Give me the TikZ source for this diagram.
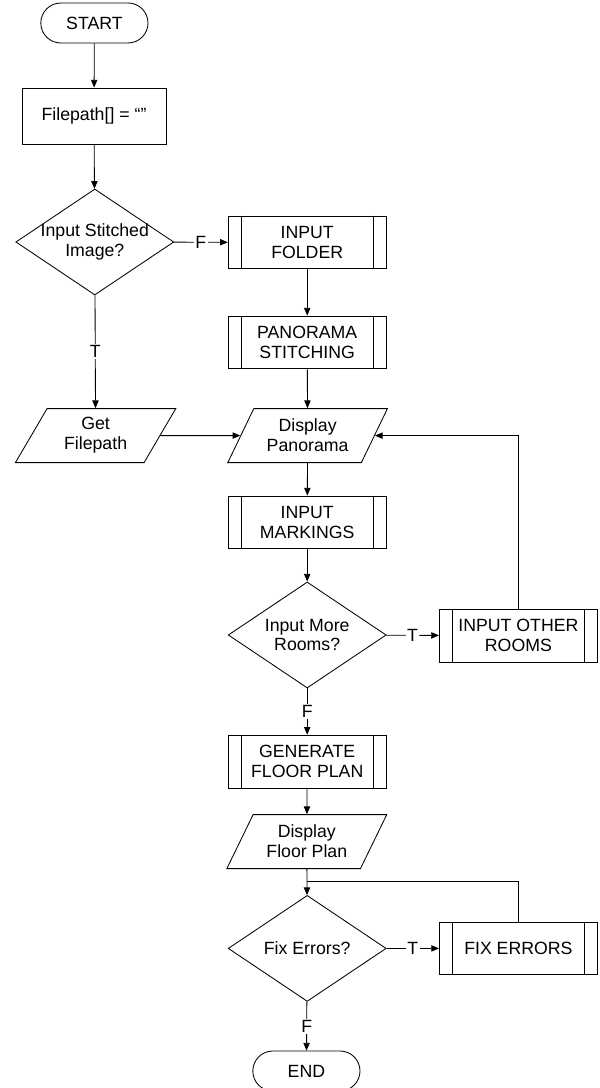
\documentclass[tikz,border=0pt]{standalone}
\usepackage{fontspec}
\setmainfont{Liberation Sans}
\usetikzlibrary{shapes.geometric,arrows.meta}

\tikzset{
  flowbox/.style={draw, align=center},
  terminal/.style={flowbox, rounded corners=0.5cm, minimum width=2.68cm, minimum height=1cm},
  process/.style={flowbox, minimum width=3.6cm, minimum height=1.4cm},
  decision/.style={flowbox, diamond, minimum width=3.95cm, minimum height=2.65cm, inner sep=0pt},
  inout/.style={flowbox, trapezium, trapezium left angle=62.5, trapezium right angle=117.5,
    trapezium stretches=true, minimum width=4.03cm, minimum height=1.35cm},
  subproc/.style={flowbox, minimum width=3.95cm, minimum height=1.32cm,
    path picture={
      \draw ([xshift=0.33cm]path picture bounding box.north west) -- ([xshift=0.33cm]path picture bounding box.south west);
      \draw ([xshift=-0.33cm]path picture bounding box.north east) -- ([xshift=-0.33cm]path picture bounding box.south east);
    }},
  tf/.style={fill=white, inner sep=1pt}
}

\begin{document}
\begin{tikzpicture}[line width=0.6pt, >={Triangle[length=5.5pt,width=4.5pt]},
  font=\fontsize{12.6}{14.2}\selectfont]
\useasboundingbox (0,0) rectangle (14.975,-27.2);

\node[terminal] (start) at (2.36,-0.575) {START};

\node[process] (init) at (2.35,-2.9) {Filepath[] = “”};

\node[decision, label={[align=center]center:Input Stitched\\Image?}] (dec1) at (2.37,-6.05) {};

\node[subproc] (infolder) at (7.68,-6.06) {INPUT\\FOLDER};

\node[subproc] (stitch) at (7.68,-8.56) {PANORAMA\\STITCHING};

\node[inout] (getfp) at (2.39,-10.89) {Get\\Filepath};

\node[inout] (disppano) at (7.69,-10.89) {Display\\Panorama};

\node[subproc] (markings) at (7.68,-13.06) {INPUT\\MARKINGS};

\node[decision, label={[align=center]center:Input More\\Rooms?}] (dec2) at (7.68,-15.875) {};

\node[subproc] (others) at (12.96,-15.89) {INPUT OTHER\\ROOMS};

\node[subproc] (genplan) at (7.68,-19.04) {GENERATE\\FLOOR PLAN};

\node[inout] (dispplan) at (7.67,-21.04) {Display\\Floor Plan};

\coordinate (join) at (7.68,-22.04);

\node[decision, label={center:Fix Errors?}] (dec3) at (7.68,-23.71) {};

\node[subproc] (fixerr) at (12.96,-23.71) {FIX ERRORS};

\node[terminal] (stop) at (7.66,-26.775) {END};

\draw[->] (start)--(init);
\draw[->] (init)--(dec1);
\draw[->] (dec1)--node[tf]{F}(infolder);
\draw[->] (dec1)--node[tf]{T}(getfp);
\draw[->] (infolder)--(stitch);
\draw[->] (stitch)--(disppano);
\draw[->] (getfp.east)--(disppano.west);
\draw[->] (disppano)--(markings);
\draw[->] (markings)--(dec2);
\draw[->] (dec2)--node[tf]{T}(others);
\draw[->] (others.north) |- (disppano.east);
\draw[->] (dec2)--node[tf]{F}(genplan);
\draw[->] (genplan)--(dispplan);
\draw[->] (dispplan)--(dec3);
\draw (fixerr.north) |- (join);
\draw[->] (dec3)--node[tf]{T}(fixerr);
\draw[->] (dec3)--node[tf]{F}(stop);
\end{tikzpicture}
\end{document}
